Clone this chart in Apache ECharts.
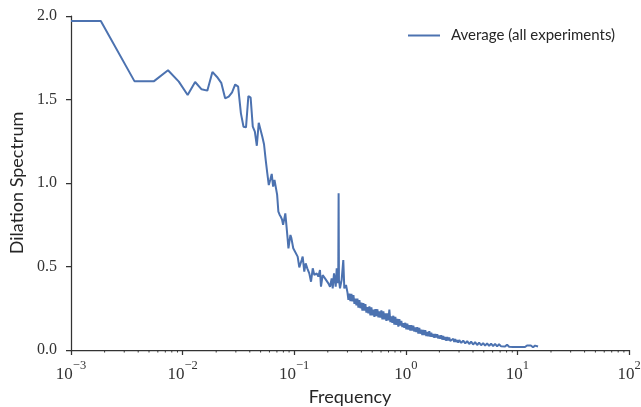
<!DOCTYPE html>
<html>
<head>
<meta charset="utf-8">
<script src="https://cdn.jsdelivr.net/npm/echarts@6/dist/echarts.min.js"></script>
<style>
  html, body { margin: 0; padding: 0; background: #fff; }
  #chart { width: 641px; height: 407px; }
</style>
</head>
<body>
<div id="chart"></div>
<script>
// values
const seriesName = 'Average (all experiments)'

const freqHz = [
  // low frequencies
  0.001, 0.00185, 0.0037, 0.00555, 0.0074, 0.00925, 0.0111, 0.01295, 0.0148, 0.01665,
  0.0185, 0.02035, 0.0222, 0.02405, 0.0259, 0.02775, 0.0296, 0.03145, 0.0333, 0.03515,
  0.037, 0.03885, 0.0407, 0.04255, 0.0444, 0.04625, 0.0481, 0.04995, 0.0518, 0.05365,
  0.0555, 0.05735, 0.0592, 0.06105, 0.0629, 0.06475, 0.0666, 0.06845, 0.0703, 0.07215,
  0.074, 0.07585, 0.0777, 0.07955, 0.0814, 0.08325, 0.0851, 0.08695, 0.0888, 0.09065,
  0.0925, 0.09435, 0.0962, 0.09805, 0.0999, 0.10175,
  // 0.1 - 0.3 Hz, with the 0.25 Hz peak
  0.1074, 0.1111, 0.1167, 0.1191, 0.1231, 0.1267, 0.131, 0.1365, 0.1415, 0.1466,
  0.1514, 0.1591, 0.1645, 0.1702, 0.1738, 0.1799, 0.1888, 0.1955, 0.2023, 0.2094,
  0.2167, 0.2213, 0.2274, 0.2355, 0.2404, 0.2454, 0.2481, 0.25, 0.2518, 0.2573,
  0.2662, 0.2754, 0.2812, 0.2913,
  // dense noisy band 0.3 - 3 Hz
  0.300, 0.306, 0.3125, 0.319, 0.3257, 0.3325, 0.3394, 0.3465, 0.3537, 0.361,
  0.3685, 0.3762, 0.384, 0.392, 0.4002, 0.4085, 0.417, 0.4257, 0.4345, 0.4436,
  0.4528, 0.4622, 0.4718, 0.4817, 0.4917, 0.5019, 0.5124, 0.523, 0.5339, 0.545,
  0.5564, 0.568, 0.5798, 0.5918, 0.6041, 0.6167, 0.6296, 0.6427, 0.656, 0.6697,
  0.6836, 0.6978, 0.7124, 0.7272, 0.7423, 0.7578, 0.7735, 0.7896, 0.8061, 0.8228,
  0.84, 0.8574, 0.8753, 0.8935, 0.9121, 0.9311, 0.9505, 0.9702, 0.9904, 1.011,
  1.032, 1.054, 1.076, 1.098, 1.121, 1.144, 1.168, 1.192, 1.217, 1.242,
  1.268, 1.295, 1.321, 1.349, 1.377, 1.406, 1.435, 1.465, 1.495, 1.526,
  1.558, 1.59, 1.624, 1.657, 1.692, 1.727, 1.763, 1.8, 1.837, 1.875,
  1.914, 1.954, 1.995, 2.036, 2.079, 2.122, 2.166, 2.211, 2.257, 2.304,
  2.352, 2.401, 2.451, 2.502, 2.554, 2.607, 2.661, 2.717, 2.773, 2.831,
  2.89, 2.95,
  // tail 3 - 15 Hz
  3.01, 3.14, 3.27, 3.41, 3.55, 3.70, 3.85, 4.01, 4.18, 4.36,
  4.54, 4.73, 4.93, 5.14, 5.35, 5.58, 5.81, 6.06, 6.31, 6.58,
  6.85, 7.14, 7.44, 7.75, 8.08, 8.42, 8.77, 9.14, 9.52, 9.92,
  10.3, 10.8, 11.2, 11.7, 12.2, 12.7, 13.2, 13.8, 14.4, 15.0,
  15.3
]

const dilation = [
  1.97, 1.97, 1.61, 1.61, 1.675, 1.607, 1.527, 1.605, 1.561, 1.553,
  1.665, 1.635, 1.60, 1.507, 1.517, 1.543, 1.59, 1.577, 1.417, 1.337,
  1.333, 1.521, 1.511, 1.337, 1.307, 1.223, 1.361, 1.361, 1.277, 1.232,
  1.14, 1.06, 0.988, 1.02, 1.054, 0.978, 1.018, 1.008, 0.93, 0.828,
  0.81, 0.798, 0.782, 0.749, 0.76, 0.818, 0.749, 0.68, 0.609, 0.65,
  0.689, 0.67, 0.659, 0.609, 0.605, 0.599,

  0.559, 0.495, 0.539, 0.559, 0.469, 0.519, 0.489, 0.459, 0.409, 0.489,
  0.449, 0.459, 0.439, 0.479, 0.379, 0.449, 0.429, 0.439, 0.399, 0.379,
  0.429, 0.369, 0.459, 0.379, 0.489, 0.40, 0.43, 0.938, 0.42, 0.369,
  0.42, 0.539, 0.369, 0.389,

  0.345, 0.300, 0.338, 0.293, 0.336, 0.291, 0.328, 0.276, 0.308, 0.268,
  0.308, 0.254, 0.299, 0.250, 0.284, 0.236, 0.280, 0.236, 0.274, 0.224,
  0.257, 0.219, 0.261, 0.208, 0.255, 0.207, 0.242, 0.198, 0.245, 0.203,
  0.244, 0.195, 0.231, 0.194, 0.237, 0.184, 0.232, 0.184, 0.220, 0.174,
  0.220, 0.177, 0.242, 0.167, 0.201, 0.163, 0.205, 0.152, 0.199, 0.151,
  0.186, 0.140, 0.185, 0.146, 0.174, 0.137, 0.161, 0.133, 0.163, 0.124,
  0.157, 0.123, 0.149, 0.116, 0.148, 0.117, 0.146, 0.110, 0.135, 0.108,
  0.137, 0.099, 0.132, 0.098, 0.122, 0.089, 0.120, 0.090, 0.119, 0.083,
  0.108, 0.082, 0.112, 0.080, 0.103, 0.079, 0.096, 0.074, 0.096, 0.075,
  0.094, 0.069, 0.086, 0.067, 0.088, 0.062, 0.084, 0.061, 0.077, 0.056,
  0.077, 0.057, 0.075, 0.054, 0.065, 0.052, 0.067, 0.048, 0.065, 0.048,
  0.060, 0.044,

  0.060, 0.042, 0.0565, 0.039, 0.0532, 0.0356, 0.050, 0.0328, 0.0474, 0.030,
  0.0436, 0.0284, 0.0414, 0.0264, 0.0394, 0.0244, 0.0376, 0.023, 0.0364, 0.0218,
  0.0343, 0.0217, 0.0331, 0.0205, 0.0319, 0.0193, 0.0308, 0.0184, 0.030, 0.0176,
  0.0282, 0.0179, 0.0277, 0.0175, 0.0273, 0.0171, 0.0269, 0.0167, 0.0264, 0.0161,
  0.021
]

const yTicks = [0, 0.5, 1.0, 1.5, 2.0]
const minorMultipliers = [2, 3, 4, 5, 6, 7, 8, 9]
const decades = [-3, -2, -1, 0, 1]

const lineData = freqHz.map((f, i) => [f, dilation[i]])
const minorTicks = []
decades.forEach(d => minorMultipliers.forEach(m => minorTicks.push([m * Math.pow(10, d), 0])))

const lineColor = '#4c72b0'
const axisColor = '#333'
const labelFont = '"Liberation Serif", "DejaVu Serif", serif'
const nameFont = 'Lato, "Open Sans", sans-serif'

const chart = echarts.init(document.getElementById('chart'), null, { renderer: 'canvas' })

const option = {
  animation: false,
  backgroundColor: '#fff',
  grid: {
    left: 71,
    right: 12,
    top: 16,
    bottom: 57,
    containLabel: false,
    outerBoundsMode: 'none'
  },
  legend: {
    data: [{ name: seriesName, icon: 'rect' }],
    left: 408,
    top: 28,
    padding: 0,
    itemWidth: 32,
    itemHeight: 2,
    itemStyle: { color: lineColor },
    textStyle: {
      fontFamily: nameFont,
      fontSize: 15,
      color: '#262626',
      padding: [0, 0, 0, 6]
    }
  },
  xAxis: {
    type: 'log',
    logBase: 10,
    min: 0.001,
    max: 100,
    name: 'Frequency',
    nameLocation: 'middle',
    nameGap: 32,
    nameTextStyle: { fontFamily: nameFont, fontSize: 18, color: '#262626' },
    splitLine: { show: false },
    axisLine: { lineStyle: { color: axisColor, width: 1.25 } },
    axisTick: { inside: false, length: 5, lineStyle: { color: axisColor, width: 1.25 } },
    axisLabel: {
      margin: 9,
      color: '#333',
      formatter: v => {
        const e = Math.round(Math.log10(v))
        return '{b|10}{s|' + (e < 0 ? '\u2212' + (-e) : e) + '}'
      },
      rich: {
        b: { fontFamily: labelFont, fontSize: 17, lineHeight: 24, verticalAlign: 'bottom', color: '#333' },
        s: { fontFamily: labelFont, fontSize: 12.5, lineHeight: 15, verticalAlign: 'top', color: '#333' }
      }
    }
  },
  yAxis: {
    type: 'value',
    min: 0,
    max: 2,
    interval: 0.5,
    name: 'Dilation Spectrum',
    nameLocation: 'middle',
    nameGap: 43,
    nameTextStyle: { fontFamily: nameFont, fontSize: 18, color: '#262626' },
    splitLine: { show: false },
    axisLine: { show: true, lineStyle: { color: axisColor, width: 1.25 } },
    axisTick: { show: true, inside: false, length: 5, lineStyle: { color: axisColor, width: 1.25 } },
    axisLabel: {
      margin: 14,
      fontFamily: labelFont,
      fontSize: 16,
      color: '#333',
      formatter: v => yTicks.indexOf(v) >= 0 ? v.toFixed(1) : ''
    }
  },
  series: [
    {
      name: seriesName,
      type: 'line',
      data: lineData,
      symbol: 'none',
      showSymbol: false,
      clip: true,
      lineStyle: { color: lineColor, width: 2 },
      itemStyle: { color: lineColor }
    },
    {
      // minor ticks of the log axis
      name: 'minor',
      type: 'custom',
      data: minorTicks,
      silent: true,
      clip: false,
      renderItem: (params, api) => {
        const p = api.coord([api.value(0), 0])
        return {
          type: 'line',
          shape: { x1: p[0], y1: p[1], x2: p[0], y2: p[1] + 2.5 },
          style: { stroke: axisColor, lineWidth: 1 }
        }
      }
    }
  ]
}

chart.setOption(option)
</script>
</body>
</html>
